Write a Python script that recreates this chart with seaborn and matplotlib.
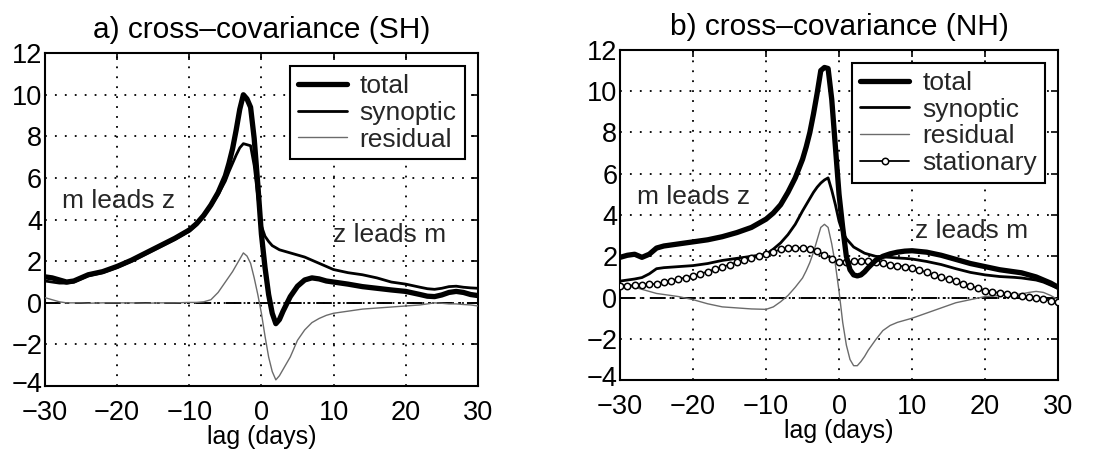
import numpy as np
import pandas as pd
import seaborn as sns
import matplotlib
matplotlib.use("Agg")
import matplotlib.pyplot as plt
from matplotlib.transforms import ScaledTranslation

# ---- Southern Hemisphere cross-covariance (lag in days) ----
sh_lag = [-30, -29, -28, -27, -26, -25, -24, -22, -20, -18, -16, -14, -12, -10,
          -9, -8, -7, -6, -5, -4.5, -4, -3.5, -3, -2.5, -2, -1.5, -1, -0.5,
          0, 0.5, 1, 1.5, 2, 2.5, 3, 3.5, 4, 5, 6, 7, 8, 9, 10, 12, 14, 16,
          18, 20, 22, 23, 24, 25, 26, 27, 28, 29, 30]
sh_total = [1.25, 1.2, 1.1, 1.0, 1.05, 1.2, 1.35, 1.5, 1.75, 2.05, 2.4, 2.75, 3.1, 3.5,
            3.8, 4.2, 4.7, 5.3, 6.1, 6.7, 7.4, 8.3, 9.3, 10.0, 9.8, 9.4, 7.9, 5.7,
            3.3, 1.7, 0.4, -0.5, -1.0, -0.8, -0.4, -0.05, 0.3, 0.8, 1.1, 1.2, 1.15, 1.05, 1.0, 0.9, 0.78, 0.7,
            0.62, 0.55, 0.4, 0.32, 0.3, 0.38, 0.5, 0.55, 0.5, 0.4, 0.35]
sh_synoptic = [1.05, 1.0, 0.95, 0.95, 1.0, 1.15, 1.3, 1.45, 1.7, 2.0, 2.35, 2.7, 3.05, 3.45,
               3.75, 4.15, 4.65, 5.2, 5.85, 6.3, 6.7, 7.1, 7.45, 7.65, 7.6, 7.55, 6.6, 5.1,
               3.7, 3.2, 2.95, 2.75, 2.65, 2.55, 2.5, 2.45, 2.4, 2.3, 2.2, 2.05, 1.9, 1.75, 1.6, 1.45, 1.35, 1.2,
               1.0, 0.9, 0.75, 0.68, 0.65, 0.7, 0.78, 0.8, 0.75, 0.72, 0.7]
sh_residual = [0.25, 0.15, 0.05, 0.0, 0.0, 0.0, -0.02, 0.0, 0.0, 0.0, -0.02, 0.0, 0.0, 0.02,
               0.02, 0.05, 0.15, 0.5, 1.0, 1.25, 1.5, 1.8, 2.1, 2.4, 2.25, 1.9, 1.2, 0.4,
               -0.5, -1.6, -2.6, -3.3, -3.7, -3.5, -3.2, -2.9, -2.6, -1.8, -1.3, -0.95, -0.75, -0.6, -0.5, -0.4, -0.3, -0.25,
               -0.2, -0.15, -0.1, -0.05, 0.0, -0.02, -0.05, -0.05, -0.08, -0.1, -0.15]

# ---- Northern Hemisphere cross-covariance ----
nh_lag = sh_lag
nh_total = [1.95, 2.05, 2.1, 1.95, 2.1, 2.4, 2.5, 2.6, 2.7, 2.8, 2.95, 3.15, 3.4, 3.8,
            4.1, 4.5, 5.1, 5.8, 6.7, 7.3, 8.0, 8.9, 9.9, 11.0, 11.15, 11.1, 9.6, 7.3,
            5.0, 3.4, 2.0, 1.35, 1.1, 1.05, 1.1, 1.25, 1.45, 1.8, 2.0, 2.12, 2.2, 2.25, 2.27, 2.2, 2.05, 1.85,
            1.65, 1.5, 1.35, 1.3, 1.25, 1.2, 1.1, 1.0, 0.85, 0.7, 0.5]
nh_synoptic = [0.8, 0.85, 0.9, 0.97, 1.15, 1.4, 1.45, 1.5, 1.55, 1.65, 1.8, 1.9, 2.0, 2.1,
               2.35, 2.65, 3.05, 3.55, 4.2, 4.5, 4.8, 5.1, 5.35, 5.55, 5.7, 5.8, 5.2, 4.5,
               3.7, 3.15, 2.85, 2.65, 2.45, 2.35, 2.25, 2.15, 2.1, 2.0, 1.97, 1.95, 1.92, 1.9, 1.87, 1.75, 1.6, 1.4,
               1.22, 1.1, 1.02, 1.0, 0.98, 0.95, 0.9, 0.85, 0.75, 0.6, 0.45]
nh_residual = [0.6, 0.55, 0.5, 0.4, 0.3, 0.2, 0.15, 0.05, -0.1, -0.3, -0.45, -0.5, -0.55, -0.57,
               -0.45, -0.2, 0.1, 0.5, 0.95, 1.3, 1.7, 2.2, 2.8, 3.4, 3.55, 3.4, 2.6, 1.6,
               0.3, -1.2, -2.3, -3.0, -3.3, -3.3, -3.1, -2.85, -2.55, -2.05, -1.6, -1.35, -1.2, -1.1, -1.0, -0.75, -0.5, -0.25,
               -0.1, 0.05, 0.1, 0.12, 0.15, 0.18, 0.25, 0.3, 0.25, 0.1, -0.1]
nh_stat_lag = list(range(-30, 31))
nh_stationary = [0.57, 0.58, 0.60, 0.62, 0.64, 0.67, 0.74, 0.82, 0.90, 0.97,
                 1.05, 1.15, 1.26, 1.37, 1.48, 1.60, 1.70, 1.80, 1.90, 2.00,
                 2.10, 2.22, 2.33, 2.40, 2.42, 2.40, 2.34, 2.24, 2.08, 1.88,
                 1.72, 1.70, 1.76, 1.78, 1.76, 1.72, 1.66, 1.60, 1.55, 1.50,
                 1.45, 1.34, 1.22, 1.10, 0.98, 0.88, 0.78, 0.68, 0.57, 0.45,
                 0.34, 0.28, 0.22, 0.16, 0.11, 0.07, 0.03, -0.02, -0.08, -0.15,
                 -0.22]

titles = ["a) cross–covariance (SH)", "b) cross–covariance (NH)"]
x_ticks = [-30, -20, -10, 0, 10, 20, 30]
y_ticks = [-4, -2, 0, 2, 4, 6, 8, 10, 12]

sns.set_theme(style="white")
plt.rcParams["font.family"] = ["Liberation Sans", "DejaVu Sans"]
plt.rcParams["axes.unicode_minus"] = True

fig = plt.figure(figsize=(11.1, 4.58), dpi=100)
ax_sh = fig.add_axes([0.0405, 0.157, 0.390, 0.727])
ax_nh = fig.add_axes([0.5586, 0.170, 0.3946, 0.721])

total_kw = dict(color="black", linewidth=3.8)
syn_kw = dict(color="black", linewidth=2.0)
res_kw = dict(color="0.42", linewidth=1.0)

# SH panel
sns.lineplot(x=sh_lag, y=sh_total, ax=ax_sh, label="total", zorder=4, **total_kw)
sns.lineplot(x=sh_lag, y=sh_synoptic, ax=ax_sh, label="synoptic", zorder=3, **syn_kw)
sns.lineplot(x=sh_lag, y=sh_residual, ax=ax_sh, label="residual", zorder=3, **res_kw)

# NH panel
sns.lineplot(x=nh_lag, y=nh_total, ax=ax_nh, label="total", zorder=4, **total_kw)
sns.lineplot(x=nh_lag, y=nh_synoptic, ax=ax_nh, label="synoptic", zorder=3, **syn_kw)
sns.lineplot(x=nh_lag, y=nh_residual, ax=ax_nh, label="residual", zorder=3, **res_kw)
sns.lineplot(x=nh_stat_lag, y=nh_stationary, ax=ax_nh, label="stationary", zorder=3,
             color="black", linewidth=1.3, marker="o", markersize=4.6,
             markerfacecolor="white", markeredgecolor="black", markeredgewidth=1.1)

for ax, title in zip([ax_sh, ax_nh], titles):
    ax.axhline(0, color="black", linewidth=1.4, linestyle=(0, (8, 3, 1.5, 3)), zorder=2)
    ax.set_xlim(-30, 30)
    ax.set_ylim(-4, 12)
    ax.set_xticks(x_ticks)
    ax.set_yticks(y_ticks)
    ax.grid(True, color="black", linestyle=(0, (1, 4.5)), linewidth=1.3)
    ax.tick_params(direction="in", top=True, right=True, length=5, width=1.2,
                   labelsize=19.5, colors="black")
    ax.tick_params(axis="x", pad=10)
    ax.tick_params(axis="y", pad=2)
    for sp in ax.spines.values():
        sp.set_color("black")
        sp.set_linewidth(1.5)
    ax.set_title(title, fontsize=21.5, pad=11, color="black")
    ax.set_xlabel("lag (days)", fontsize=18, labelpad=-1, color="black")
    ax.set_ylabel("")
    # lift the bottom y label slightly so it clears the first x label
    lowest = ax.get_yticklabels()[0]
    lowest.set_transform(lowest.get_transform() + ScaledTranslation(0, 3 / 72, fig.dpi_scale_trans))
    leg = ax.legend(loc="upper right", frameon=True, fancybox=False, edgecolor="black",
                    framealpha=1, fontsize=19, handlelength=1.85, handletextpad=0.5,
                    labelspacing=0.1, borderpad=0.3, borderaxespad=0.5, numpoints=1)
    leg.get_frame().set_linewidth(1.5)
    leg.set_zorder(10)

ax_sh.text(-27.6, 4.9, "m leads z", fontsize=19, va="center", ha="left")
ax_sh.text(9.9, 3.25, "z leads m", fontsize=19, va="center", ha="left")
ax_nh.text(-27.7, 4.85, "m leads z", fontsize=19, va="center", ha="left")
ax_nh.text(10.4, 3.25, "z leads m", fontsize=19, va="center", ha="left")

fig.savefig("out.png", dpi=100, facecolor="white")
